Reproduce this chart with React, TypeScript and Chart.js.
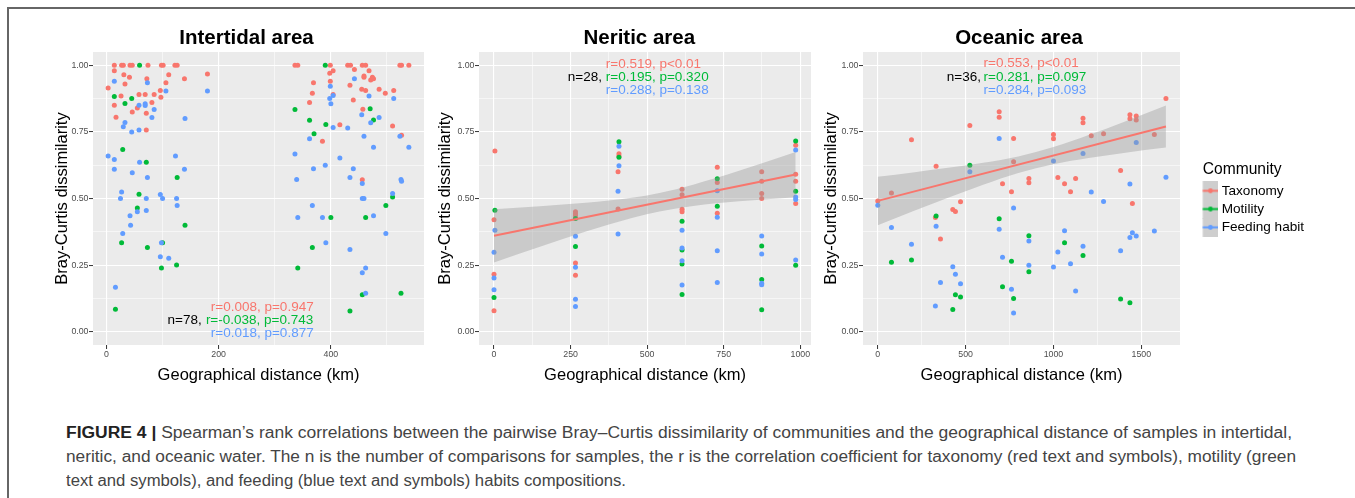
import React, { useEffect, useRef } from 'react';
import { Chart, registerables } from 'chart.js';

Chart.register(...registerables);

const FONT = "'Liberation Sans', Arial, Helvetica, sans-serif";
Chart.defaults.font.family = FONT;

const RED = '#F8766D';
const GREEN = '#00BA38';
const BLUE = '#619CFF';
const SERIES = ['Taxonomy', 'Motility', 'Feeding habit'];
const SERIES_COLORS = [RED, GREEN, BLUE];

type Pt = [number, number];

// ---------------- Intertidal area ----------------
const intertidalTaxonomy: Pt[] = [
  [3, 0.915], [14, 1.0], [14, 0.98], [14, 0.85], [17, 0.805], [26, 0.885], [27, 1.0], [30, 1.0], [31, 0.965],
  [33, 0.93], [41, 0.955], [42, 1.0], [46, 1.0], [46, 0.825], [55, 0.84], [58, 0.89], [69, 0.89], [71, 0.82],
  [71, 0.757], [72, 0.95], [74, 1.0], [81, 0.86], [85, 0.89], [96, 0.905], [97, 0.88], [98, 1.0], [101, 1.0],
  [106, 0.935], [111, 0.965], [122, 1.0], [126, 1.0], [139, 0.95], [180, 0.967],
  [336, 1.0], [341, 1.0], [362, 0.86], [367, 0.895], [369, 0.935], [385, 0.715], [399, 1.0], [398, 0.97],
  [404, 0.98], [399, 0.94], [404, 0.89], [416, 0.777], [430, 1.0], [435, 1.0], [442, 0.984], [434, 0.925],
  [440, 0.87], [456, 1.0], [462, 1.0], [459, 0.96], [459, 0.955], [468, 0.98], [474, 0.955], [471, 0.945],
  [476, 0.95], [455, 0.91], [462, 0.905], [457, 0.835], [486, 0.91], [497, 0.895], [512, 0.905], [510, 0.772],
  [523, 1.0], [526, 1.0], [539, 1.0], [526, 0.737], [456, 0.57],
];
const intertidalMotility: Pt[] = [
  [59, 1.0], [14, 0.883], [33, 0.857], [45, 0.875], [29, 0.684], [71, 0.636], [58, 0.516], [55, 0.464],
  [27, 0.334], [73, 0.316], [100, 0.334], [98, 0.239], [126, 0.579], [140, 0.4], [125, 0.25], [16, 0.084],
  [390, 1.0], [336, 0.834], [362, 0.794], [370, 0.743], [391, 0.778], [400, 0.429], [470, 0.837], [476, 0.795],
  [341, 0.239], [367, 0.316], [462, 0.429], [498, 0.474], [510, 0.506], [434, 0.078], [456, 0.139], [525, 0.144],
];
const intertidalFeeding: Pt[] = [
  [14, 0.94], [73, 0.935], [106, 0.904], [180, 0.904], [58, 0.85], [69, 0.856], [69, 0.849], [85, 0.834],
  [81, 0.804], [33, 0.785], [30, 0.769], [45, 0.75], [58, 0.757], [140, 0.8], [3, 0.66], [14, 0.646],
  [14, 0.61], [59, 0.636], [46, 0.597], [73, 0.579], [123, 0.66], [139, 0.61], [27, 0.524], [25, 0.5],
  [71, 0.5], [42, 0.435], [55, 0.45], [71, 0.455], [43, 0.4], [29, 0.369], [96, 0.515], [100, 0.5],
  [125, 0.5], [126, 0.474], [98, 0.334], [96, 0.281], [111, 0.276], [16, 0.167],
  [336, 0.667], [339, 0.571], [341, 0.429], [362, 0.724], [369, 0.612], [367, 0.474], [385, 0.429],
  [391, 0.334], [390, 0.625], [399, 0.921], [398, 0.875], [400, 0.856], [404, 0.887], [404, 0.767],
  [430, 0.765], [416, 0.652], [434, 0.579], [440, 0.612], [434, 0.309], [442, 0.95], [455, 0.814],
  [459, 0.734], [456, 0.556], [456, 0.5], [459, 0.5], [456, 0.221], [462, 0.239], [462, 0.144], [468, 0.885],
  [471, 0.784], [476, 0.692], [486, 0.804], [476, 0.435], [498, 0.369], [512, 0.875], [523, 0.734],
  [539, 0.692], [525, 0.571], [526, 0.565], [510, 0.519],
];
const intertidalN = 'n=78, ';
const intertidalStats = ['r=0.008, p=0.947', 'r=-0.038, p=0.743', 'r=0.018, p=0.877'];

// ---------------- Neritic area ----------------
const neriticTaxonomy: Pt[] = [
  [3, 0.678], [0, 0.42], [0, 0.216], [0, 0.079], [266, 0.45], [266, 0.443], [266, 0.435], [266, 0.258],
  [266, 0.212], [405, 0.6], [408, 0.668], [408, 0.66], [405, 0.461], [614, 0.535], [614, 0.514], [614, 0.46],
  [614, 0.45], [729, 0.617], [729, 0.56], [729, 0.445], [874, 0.6], [874, 0.565], [874, 0.519], [874, 0.5],
  [985, 0.7], [985, 0.591], [985, 0.565], [985, 0.481],
];
const neriticMotility: Pt[] = [
  [3, 0.456], [0, 0.128], [266, 0.425], [266, 0.32], [408, 0.713], [408, 0.655], [614, 0.415], [614, 0.307],
  [614, 0.254], [614, 0.14], [729, 0.574], [729, 0.471], [874, 0.322], [874, 0.196], [874, 0.082],
  [985, 0.716], [985, 0.527], [985, 0.249],
];
const neriticFeeding: Pt[] = [
  [3, 0.381], [0, 0.298], [0, 0.202], [0, 0.157], [266, 0.358], [266, 0.242], [266, 0.122], [266, 0.095],
  [408, 0.696], [408, 0.623], [405, 0.527], [405, 0.367], [614, 0.381], [614, 0.314], [614, 0.266],
  [614, 0.175], [729, 0.529], [729, 0.43], [729, 0.304], [729, 0.185], [874, 0.359], [874, 0.292],
  [874, 0.182], [874, 0.176], [985, 0.682], [985, 0.506], [985, 0.496], [985, 0.269],
];
const neriticFitX = [0, 985];
const neriticFitY = [0.36, 0.59];
const neriticBandX = [0, 150, 300, 450, 540, 650, 800, 985];
const neriticBandUpper = [0.46, 0.471, 0.484, 0.503, 0.521, 0.552, 0.604, 0.675];
const neriticBandLower = [0.26, 0.319, 0.376, 0.427, 0.451, 0.472, 0.49, 0.505];
const neriticN = 'n=28, ';
const neriticStats = ['r=0.519, p<0.01', 'r=0.195, p=0.320', 'r=0.288, p=0.138'];

// ---------------- Oceanic area ----------------
const oceanicTaxonomy: Pt[] = [
  [0, 0.491], [78, 0.521], [192, 0.721], [332, 0.621], [328, 0.429], [357, 0.348], [427, 0.459], [442, 0.451],
  [471, 0.488], [524, 0.774], [691, 0.826], [691, 0.805], [710, 0.555], [761, 0.525], [773, 0.725],
  [773, 0.638], [860, 0.575], [860, 0.559], [1000, 0.74], [1000, 0.724], [1025, 0.579], [1063, 0.555],
  [1097, 0.525], [1126, 0.575], [1168, 0.801], [1168, 0.784], [1215, 0.736], [1285, 0.743], [1382, 0.605],
  [1435, 0.814], [1435, 0.799], [1471, 0.81], [1471, 0.795], [1449, 0.481], [1574, 0.74], [1640, 0.875],
];
const oceanicMotility: Pt[] = [
  [78, 0.261], [192, 0.269], [332, 0.434], [427, 0.083], [442, 0.139], [471, 0.13], [524, 0.625], [691, 0.424],
  [710, 0.169], [761, 0.264], [773, 0.125], [860, 0.36], [860, 0.225], [1063, 0.334], [1168, 0.286],
  [1382, 0.123], [1435, 0.109],
];
const oceanicFeeding: Pt[] = [
  [0, 0.475], [78, 0.391], [192, 0.328], [332, 0.396], [328, 0.096], [357, 0.185], [427, 0.244], [442, 0.216],
  [471, 0.18], [524, 0.6], [691, 0.725], [691, 0.385], [710, 0.279], [761, 0.159], [773, 0.464], [773, 0.07],
  [860, 0.34], [860, 0.249], [1000, 0.641], [1000, 0.243], [1025, 0.299], [1063, 0.379], [1097, 0.255],
  [1126, 0.153], [1168, 0.669], [1168, 0.321], [1215, 0.524], [1285, 0.489], [1382, 0.304], [1435, 0.554],
  [1435, 0.354], [1449, 0.371], [1471, 0.71], [1471, 0.359], [1574, 0.378], [1640, 0.58],
];
const oceanicFitX = [0, 1640];
const oceanicFitY = [0.491, 0.77];
const oceanicBandX = [0, 200, 400, 600, 800, 1000, 1200, 1400, 1640];
const oceanicBandUpper = [0.582, 0.598, 0.615, 0.634, 0.658, 0.693, 0.738, 0.787, 0.849];
const oceanicBandLower = [0.4, 0.452, 0.503, 0.552, 0.596, 0.629, 0.652, 0.671, 0.691];
const oceanicN = 'n=36, ';
const oceanicStats = ['r=0.553, p<0.01', 'r=0.281, p=0.097', 'r=0.284, p=0.093'];

// ---------------- Axes ----------------
const yMajorTicks = [0, 0.25, 0.5, 0.75, 1];
const yMinorTicks = [0.125, 0.375, 0.625, 0.875];
const intertidalXMajor = [0, 200, 400];
const intertidalXMinor = [100, 300, 500];
const neriticXMajor = [0, 250, 500, 750, 1000];
const neriticXMinor = [125, 375, 625, 875];
const oceanicXMajor = [0, 500, 1000, 1500];
const oceanicXMinor = [250, 750, 1250];

const CAPTION_BOLD = 'FIGURE 4 | ';
const CAPTION_LINES = [
  'Spearman\u2019s rank correlations between the pairwise Bray\u2013Curtis dissimilarity of communities and the geographical distance of samples in intertidal,',
  'neritic, and oceanic water. The n is the number of comparisons for samples, the r is the correlation coefficient for taxonomy (red text and symbols), motility (green',
  'text and symbols), and feeding (blue text and symbols) habits compositions.',
];
const CAPTION_WIDTHS = [1226, 1230, 560];

interface PanelCfg {
  left: number;
  width: number;
  yAxisWidth: number;
  padRight: number;
  yTitlePad: number;
  title: string;
  titleX: number;
  xMin: number;
  xMax: number;
  xMajor: number[];
  xMinor: number[];
  tax: Pt[];
  mot: Pt[];
  feed: Pt[];
  fitX?: number[];
  fitY?: number[];
  bandX?: number[];
  bandUp?: number[];
  bandLo?: number[];
  nText: string;
  stats: string[];
  nPos: [number, number];
  statPos: [number, number][];
  legend?: boolean;
}

const CANVAS_H = 400;

function makeKey(color: string): HTMLCanvasElement {
  const c = document.createElement('canvas');
  c.width = 37;
  c.height = 19;
  const g = c.getContext('2d')!;
  g.fillStyle = '#CECECE';
  g.fillRect(21.4, 0, 15.6, 19);
  g.strokeStyle = color;
  g.lineWidth = 2;
  g.beginPath();
  g.moveTo(21.4, 9.5);
  g.lineTo(37, 9.5);
  g.stroke();
  g.fillStyle = color;
  g.beginPath();
  g.arc(29.2, 9.5, 2.4, 0, Math.PI * 2);
  g.fill();
  return c;
}

function buildConfig(p: PanelCfg): any {
  const toXY = (pts: Pt[]) => pts.map(([x, y]) => ({ x, y }));
  const datasets: any[] = [];
  if (p.fitX && p.fitY && p.bandX && p.bandUp && p.bandLo) {
    datasets.push({
      type: 'line', label: 'fit', data: p.fitX.map((x, i) => ({ x, y: p.fitY![i] })),
      borderColor: RED, borderWidth: 2, pointRadius: 0, fill: false, order: 0,
    });
    datasets.push({
      type: 'line', label: 'upper', data: p.bandX.map((x, i) => ({ x, y: p.bandUp![i] })),
      borderColor: 'rgba(0,0,0,0)', borderWidth: 0, pointRadius: 0, fill: false,
      cubicInterpolationMode: 'monotone', order: 1,
    });
    datasets.push({
      type: 'line', label: 'lower', data: p.bandX.map((x, i) => ({ x, y: p.bandLo![i] })),
      borderColor: 'rgba(0,0,0,0)', borderWidth: 0, pointRadius: 0, fill: '-1',
      backgroundColor: 'rgba(153,153,153,0.4)', cubicInterpolationMode: 'monotone', order: 2,
    });
  }
  const pointDs = (label: string, pts: Pt[], color: string, order: number) => ({
    label, data: toXY(pts), backgroundColor: color, borderColor: color, borderWidth: 0,
    pointRadius: 2.5, pointHoverRadius: 2.5, order,
  });
  datasets.push(pointDs('Feeding habit', p.feed, BLUE, 3));
  datasets.push(pointDs('Motility', p.mot, GREEN, 4));
  datasets.push(pointDs('Taxonomy', p.tax, RED, 5));

  const xTicks = [...p.xMajor, ...p.xMinor].sort((a, b) => a - b);
  const yTicks = [...yMajorTicks, ...yMinorTicks].sort((a, b) => a - b);
  const isXMajor = (v: number) => p.xMajor.includes(v);
  const isYMajor = (v: number) => yMajorTicks.includes(v);

  const decor = {
    id: 'panelDecor',
    beforeDraw(chart: any) {
      const { ctx, chartArea: a } = chart;
      ctx.save();
      ctx.fillStyle = '#EBEBEB';
      ctx.fillRect(a.left, a.top, a.right - a.left, a.bottom - a.top);
      ctx.restore();
    },
    afterDatasetsDraw(chart: any) {
      const { ctx } = chart;
      const xs = chart.scales.x;
      const ys = chart.scales.y;
      ctx.save();
      ctx.font = `13.5px ${FONT}`;
      ctx.textBaseline = 'middle';
      ctx.textAlign = 'left';
      ctx.fillStyle = '#000000';
      ctx.fillText(p.nText, xs.getPixelForValue(p.nPos[0]), ys.getPixelForValue(p.nPos[1]));
      p.stats.forEach((s, i) => {
        ctx.fillStyle = SERIES_COLORS[i];
        ctx.fillText(s, xs.getPixelForValue(p.statPos[i][0]), ys.getPixelForValue(p.statPos[i][1]));
      });
      ctx.font = `bold 20.5px ${FONT}`;
      ctx.textAlign = 'center';
      ctx.textBaseline = 'alphabetic';
      ctx.fillStyle = '#000000';
      ctx.fillText(p.title, p.titleX - p.left, 44);
      ctx.restore();
    },
  };

  const keys = SERIES_COLORS.map(makeKey);

  return {
    type: 'scatter',
    data: { datasets },
    plugins: [decor],
    options: {
      responsive: false,
      animation: false,
      events: [],
      layout: { padding: { left: 0, top: 52, right: p.padRight, bottom: 0 } },
      plugins: {
        tooltip: { enabled: false },
        title: { display: false },
        legend: p.legend
          ? {
              display: true,
              position: 'right',
              align: 'start',
              maxWidth: 124.3,
              title: {
                display: true, text: 'Community', color: '#000000', position: 'center',
                font: { size: 15.6, lineHeight: 1.1, family: FONT },
                padding: { top: 109.7, bottom: 0.4 },
              },
              labels: {
                usePointStyle: true,
                pointStyleWidth: 30.2,
                padding: 4.7,
                color: '#000000',
                font: { size: 13.6, family: FONT },
                generateLabels: () =>
                  SERIES.map((t, i) => ({
                    text: t, pointStyle: keys[i], fillStyle: SERIES_COLORS[i],
                    strokeStyle: SERIES_COLORS[i], lineWidth: 0, hidden: false, datasetIndex: 5 - i,
                  })),
              },
            }
          : { display: false },
      },
      scales: {
        x: {
          type: 'linear',
          min: p.xMin,
          max: p.xMax,
          afterBuildTicks: (s: any) => { s.ticks = xTicks.map((v) => ({ value: v })); },
          afterFit: (s: any) => { s.height = CANVAS_H - 345; },
          border: { display: false },
          grid: {
            color: '#FFFFFF',
            lineWidth: (c: any) => (c.tick && isXMajor(c.tick.value) ? 1.1 : 0.55),
            drawTicks: true,
            tickLength: 4,
            tickWidth: 1,
            tickColor: (c: any) => (c.tick && isXMajor(c.tick.value) ? '#333333' : 'rgba(0,0,0,0)'),
          },
          ticks: {
            autoSkip: false, maxRotation: 0, minRotation: 0, padding: 0, color: '#4D4D4D',
            font: { size: 8.8, family: FONT },
            callback: (v: number) => (isXMajor(v) ? String(v) : ''),
          },
          title: {
            display: true, text: 'Geographical distance (km)', color: '#000000',
            font: { size: 16.5, family: FONT }, padding: { top: 0, bottom: 15.1 },
          },
        },
        y: {
          type: 'linear',
          min: -0.05,
          max: 1.05,
          afterBuildTicks: (s: any) => { s.ticks = yTicks.map((v) => ({ value: v })); },
          afterFit: (s: any) => { s.width = p.yAxisWidth; },
          border: { display: false },
          grid: {
            color: '#FFFFFF',
            lineWidth: (c: any) => (c.tick && isYMajor(c.tick.value) ? 1.1 : 0.55),
            drawTicks: true,
            tickLength: 4,
            tickWidth: 1,
            tickColor: (c: any) => (c.tick && isYMajor(c.tick.value) ? '#333333' : 'rgba(0,0,0,0)'),
          },
          ticks: {
            autoSkip: false, padding: 0.5, color: '#4D4D4D',
            font: { size: 8.8, family: FONT },
            callback: (v: number) => (isYMajor(v) ? v.toFixed(2) : ''),
          },
          title: {
            display: true, text: 'Bray-Curtis dissimilarity', color: '#000000',
            font: { size: 16.5, family: FONT }, padding: { top: p.yTitlePad, bottom: 0 },
          },
        },
      },
    },
  };
}

const PANELS: PanelCfg[] = [
  {
    left: 40, width: 390, yAxisWidth: 53, padRight: 6, yTitlePad: 12.1,
    title: 'Intertidal area', titleX: 246.5,
    xMin: -24, xMax: 566, xMajor: intertidalXMajor, xMinor: intertidalXMinor,
    tax: intertidalTaxonomy, mot: intertidalMotility, feed: intertidalFeeding,
    nText: intertidalN, stats: intertidalStats,
    nPos: [109, 0.042], statPos: [[186, 0.092], [177.2, 0.042], [186, -0.0075]],
  },
  {
    left: 430, width: 390, yAxisWidth: 49, padRight: 9, yTitlePad: 5.6,
    title: 'Neritic area', titleX: 639.3,
    xMin: -49, xMax: 1035, xMajor: neriticXMajor, xMinor: neriticXMinor,
    tax: neriticTaxonomy, mot: neriticMotility, feed: neriticFeeding,
    fitX: neriticFitX, fitY: neriticFitY, bandX: neriticBandX, bandUp: neriticBandUpper, bandLo: neriticBandLower,
    nText: neriticN, stats: neriticStats,
    nPos: [241, 0.954], statPos: [[365, 1.0025], [365, 0.954], [365, 0.905]],
  },
  {
    left: 815, width: 540, yAxisWidth: 48, padRight: 50.7, yTitlePad: 6.1,
    title: 'Oceanic area', titleX: 1019,
    xMin: -84, xMax: 1720, xMajor: oceanicXMajor, xMinor: oceanicXMinor,
    tax: oceanicTaxonomy, mot: oceanicMotility, feed: oceanicFeeding,
    fitX: oceanicFitX, fitY: oceanicFitY, bandX: oceanicBandX, bandUp: oceanicBandUpper, bandLo: oceanicBandLower,
    nText: oceanicN, stats: oceanicStats,
    nPos: [393, 0.956], statPos: [[602, 1.006], [602, 0.956], [602, 0.907]],
    legend: true,
  },
];

function Panel({ cfg }: { cfg: PanelCfg }) {
  const ref = useRef<HTMLCanvasElement>(null);
  useEffect(() => {
    const chart = new Chart(ref.current!, buildConfig(cfg));
    return () => chart.destroy();
  }, [cfg]);
  return (
    <canvas
      ref={ref}
      width={cfg.width}
      height={CANVAS_H}
      style={{ position: 'absolute', left: cfg.left, top: 0, width: cfg.width, height: CANVAS_H }}
    />
  );
}

function Caption() {
  const r1 = useRef<HTMLDivElement>(null);
  const r2 = useRef<HTMLDivElement>(null);
  const r3 = useRef<HTMLDivElement>(null);
  useEffect(() => {
    [r1, r2, r3].forEach((r, i) => {
      const el = r.current;
      if (!el) return;
      const w = el.getBoundingClientRect().width;
      const k = w > 0 ? CAPTION_WIDTHS[i] / w : 1;
      el.style.transform = `scaleX(${k})`;
    });
  }, []);
  const base: React.CSSProperties = {
    position: 'absolute', left: 66, whiteSpace: 'nowrap', fontFamily: FONT, fontSize: 16,
    lineHeight: '24px', color: '#444444', transformOrigin: '0 0',
  };
  return (
    <>
      <div ref={r1} style={{ ...base, top: 421 }}>
        <span style={{ fontWeight: 'bold', color: '#222222' }}>{CAPTION_BOLD}</span>
        {CAPTION_LINES[0]}
      </div>
      <div ref={r2} style={{ ...base, top: 445 }}>{CAPTION_LINES[1]}</div>
      <div ref={r3} style={{ ...base, top: 469 }}>{CAPTION_LINES[2]}</div>
    </>
  );
}

export default function App() {
  return (
    <div
      style={{
        position: 'absolute', left: 0, top: 0, width: 1355, height: 498,
        background: '#FFFFFF', overflow: 'hidden',
      }}
    >
      <div
        style={{
          position: 'absolute', left: 7, top: 7, width: 1360, height: 500,
          borderTop: '2px solid #666666', borderLeft: '2px solid #666666',
        }}
      />
      {PANELS.map((p) => (
        <Panel key={p.title} cfg={p} />
      ))}
      <Caption />
    </div>
  );
}
